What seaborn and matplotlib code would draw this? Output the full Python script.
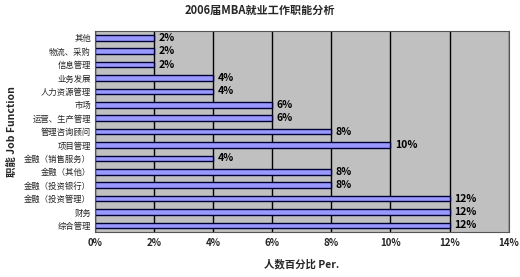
import matplotlib
matplotlib.use("Agg")
import matplotlib.pyplot as plt
import seaborn as sns
import pandas as pd
from matplotlib.ticker import FuncFormatter, MultipleLocator

categories = ["其他", "物流、采购", "信息管理", "业务发展", "人力资源管理", "市场",
              "运营、生产管理", "管理咨询顾问", "项目管理", "金融（销售服务）",
              "金融（其他）", "金融（投资银行）", "金融（投资管理）", "财务", "综合管理"]
values = [2, 2, 2, 4, 4, 6, 6, 8, 10, 4, 8, 8, 12, 12, 12]

df = pd.DataFrame({"职能": categories, "比例": values})

sns.set_theme(style="white")
plt.rcParams["font.family"] = ["Noto Sans CJK SC", "DejaVu Sans"]

fig = plt.figure(figsize=(5.2, 2.77), dpi=100)
fig.patch.set_facecolor("white")
ax = fig.add_axes([0.183, 0.162, 0.795, 0.726])
ax.set_facecolor("#c0c0c0")

sns.barplot(data=df, y="职能", x="比例", orient="h", ax=ax, color="#9999ff",
            width=0.42, edgecolor="#000033", linewidth=1.0, saturation=1)

ax.set_xlim(0, 14)
ax.xaxis.set_major_locator(MultipleLocator(2))
ax.xaxis.set_major_formatter(FuncFormatter(lambda v, p: f"{int(v)}%"))
ax.grid(axis="x", color="black", linewidth=1.0)
ax.set_axisbelow(True)
for s in ax.spines.values():
    s.set_color("#555555")
    s.set_linewidth(0.8)

for i, v in enumerate(values):
    ax.text(v + 0.15, i, f"{v}%", va="center", ha="left", fontsize=7.5,
            fontweight="bold", color="black")

ax.tick_params(axis="y", labelsize=6, length=0, pad=3)
ax.tick_params(axis="x", labelsize=7, length=0, pad=4)
for lbl in ax.get_xticklabels():
    lbl.set_fontweight("bold")

ax.set_xlabel("人数百分比 Per.", fontsize=7.5, fontweight="bold", labelpad=8)
ax.set_ylabel("职能 Job Function", fontsize=7.5, fontweight="bold")
ax.yaxis.set_label_coords(-0.19, 0.5)
fig.suptitle("2006届MBA就业工作职能分析", fontsize=8, fontweight="bold", y=0.985)

fig.savefig("out.png", dpi=100, facecolor="white")
